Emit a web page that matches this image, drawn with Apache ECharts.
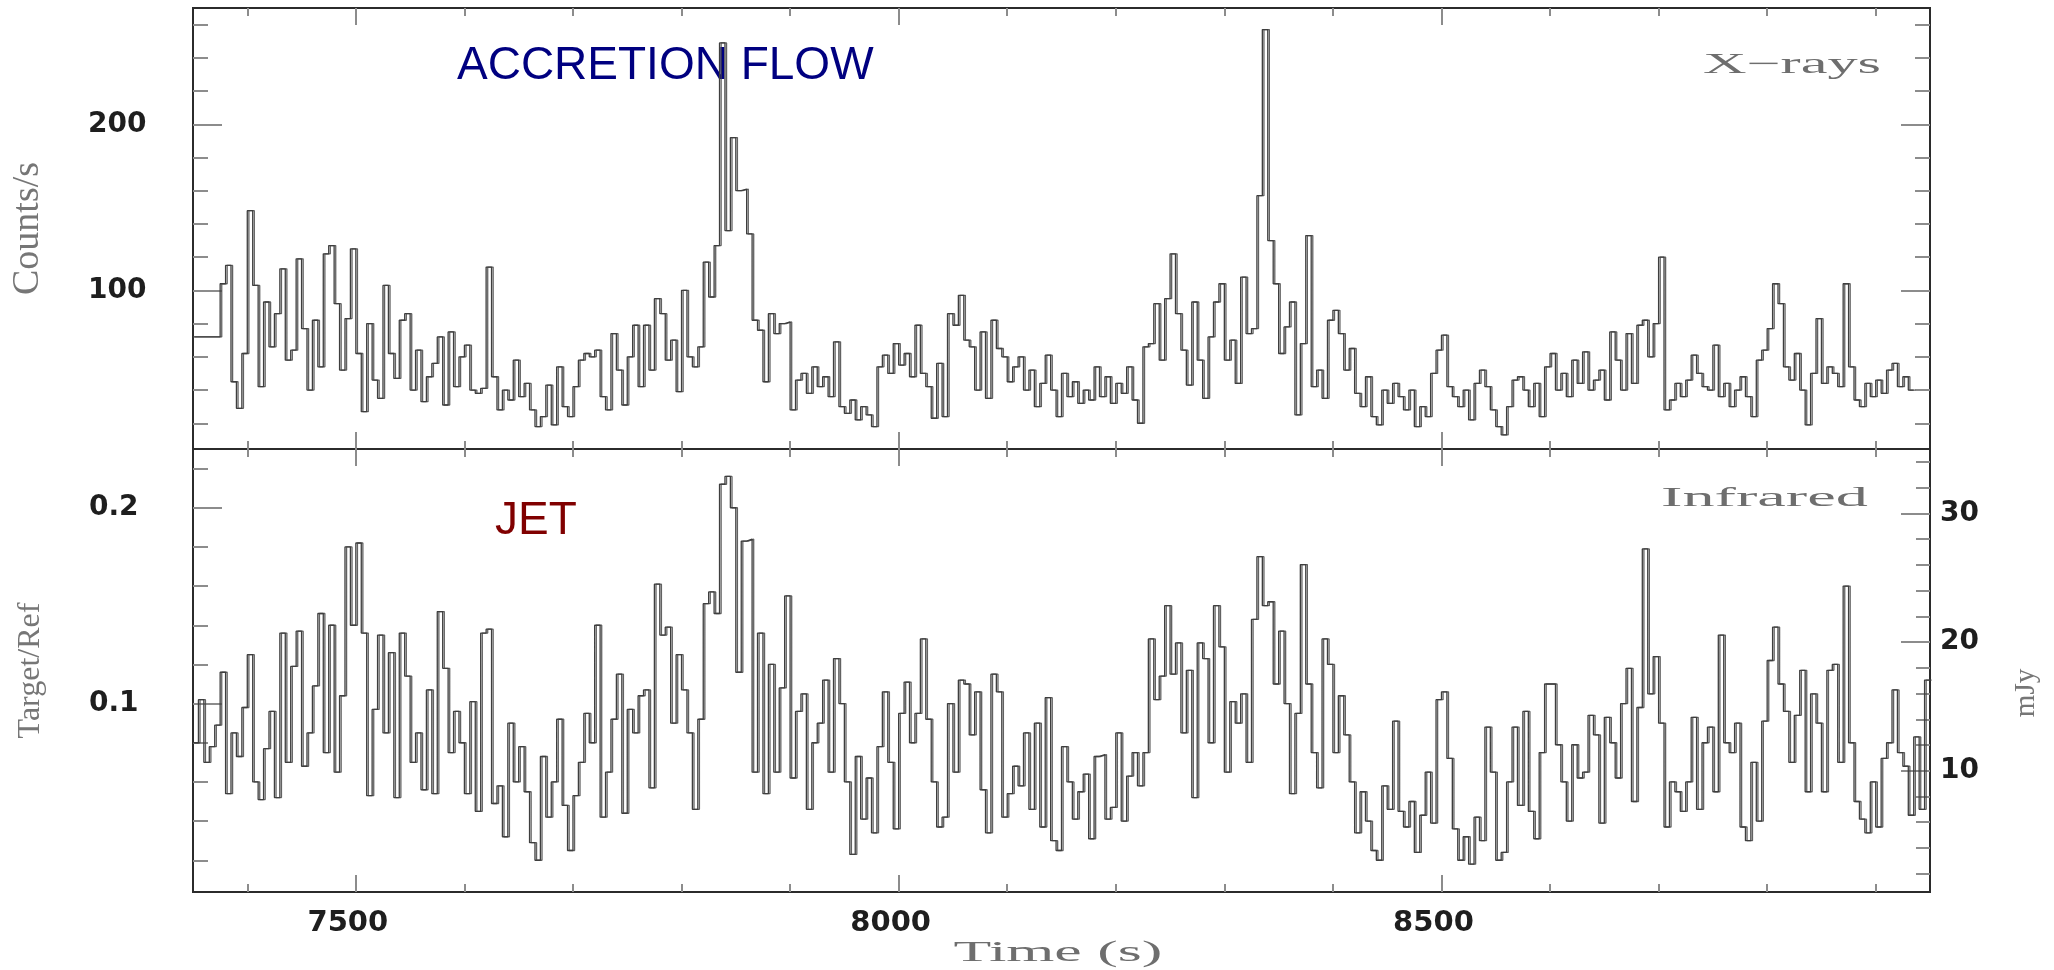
<!DOCTYPE html>
<html>
<head>
<meta charset="utf-8">
<title>Accretion flow and jet light curves</title>
<script src="https://cdn.jsdelivr.net/npm/echarts@6/dist/echarts.min.js"></script>
<style>
  html, body { margin: 0; padding: 0; background: #ffffff; }
  #chart { width: 2054px; height: 970px; }
</style>
</head>
<body>
<div id="chart"></div>
<script>
// Both light curves are binned on the same 5 s grid starting at 7350 s
const binStart = 7350;
const binSeconds = 5;

// X-ray count rate (counts/s), one value per bin
const xrayRate = [
  72, 72, 72, 72, 72, 104, 115, 45, 29, 62,
  148, 103, 42, 93, 66, 86, 113, 58, 64, 119,
  77, 40, 82, 54, 122, 127, 92, 52, 83, 125,
  62, 27, 80, 46, 35, 103, 62, 47, 82, 86,
  40, 64, 33, 48, 56, 72, 31, 75, 42, 60,
  67, 40, 38, 41, 114, 48, 28, 40, 34, 58,
  36, 44, 28, 18, 24, 43, 19, 54, 30, 24,
  42, 58, 62, 60, 64, 36, 28, 74, 52, 31,
  60, 79, 42,
  79, 52, 95, 86, 58, 70, 39, 100, 60, 54,
  66, 117, 96, 127, 249, 136, 192, 160, 161, 134,
  82, 76, 45, 86, 74, 80, 81, 28, 46, 50,
  38, 54, 42, 48, 36, 69, 30, 26, 34, 22,
  30, 25, 18, 54, 61, 50, 68, 55, 62, 48,
  79, 50, 42, 23, 56, 24, 86, 79, 97, 70,
  66, 40, 75, 35, 82, 65, 60, 45, 54, 60,
  40, 52, 30, 44, 61, 40, 24, 50, 36, 45,
  32, 40, 34, 54,
  36, 48, 32, 44, 38, 54, 34, 20, 66, 68,
  92, 58, 95, 122, 86, 64, 43, 93, 58, 35,
  72, 93, 104, 58, 70, 44, 108, 74, 77, 157,
  257, 130, 104, 62, 78, 93, 25, 68, 133, 42,
  52, 35, 82, 88, 74, 52, 65, 38, 30, 48,
  24, 19, 40, 32, 44, 36, 28, 40, 18, 30,
  24, 50, 64, 73, 42, 36, 30, 40, 22, 44,
  52, 42, 28, 18, 13, 30, 46, 48, 40, 30,
  44, 24, 54,
  62, 40, 50, 36, 58, 44, 63, 40, 46, 52,
  34, 75, 58, 40, 74, 44, 79, 82, 60, 80,
  120, 28, 34, 44, 36, 46, 61, 50, 42, 40,
  67, 36, 44, 30, 40, 48, 36, 24, 58, 64,
  77, 104, 92, 54, 46, 62, 40, 19, 50, 83,
  44, 54, 50, 42, 104, 54, 34, 30, 44, 36,
  46, 38, 52, 56, 42, 48, 40
];

// Infrared target/reference flux ratio, one value per bin
const irRatio = [
  0.080, 0.102, 0.070, 0.078, 0.089, 0.116, 0.054, 0.085, 0.073, 0.098,
  0.125, 0.060, 0.051, 0.077, 0.096, 0.052, 0.136, 0.070, 0.119, 0.137,
  0.068, 0.085, 0.109, 0.146, 0.075, 0.140, 0.065, 0.104, 0.180, 0.140,
  0.182, 0.136, 0.053, 0.097, 0.135, 0.085, 0.126, 0.052, 0.136, 0.114,
  0.070, 0.085, 0.056, 0.107, 0.054, 0.147, 0.118, 0.075, 0.096, 0.080,
  0.054, 0.101, 0.045, 0.136, 0.138, 0.049, 0.058, 0.032, 0.090, 0.060,
  0.078, 0.055, 0.029, 0.020, 0.073, 0.042, 0.060, 0.092, 0.048, 0.025,
  0.053, 0.070, 0.095, 0.080, 0.140, 0.042, 0.065, 0.092, 0.115, 0.044,
  0.097, 0.085, 0.104, 0.107,
  0.057, 0.161, 0.135, 0.139, 0.090, 0.125, 0.107, 0.085, 0.046, 0.092,
  0.151, 0.157, 0.146, 0.212, 0.216, 0.200, 0.116, 0.183, 0.184, 0.065,
  0.136, 0.054, 0.120, 0.065, 0.108, 0.155, 0.062, 0.096, 0.105, 0.046,
  0.080, 0.090, 0.112, 0.065, 0.123, 0.100, 0.060, 0.023, 0.073, 0.041,
  0.062, 0.034, 0.078, 0.106, 0.070, 0.036, 0.095, 0.111, 0.080, 0.095,
  0.133, 0.092, 0.060, 0.037, 0.042, 0.100, 0.065, 0.112, 0.110, 0.084,
  0.106, 0.056, 0.034, 0.115, 0.106, 0.042, 0.054, 0.068, 0.058, 0.085,
  0.046, 0.090, 0.037, 0.103, 0.030, 0.025, 0.078, 0.060, 0.041, 0.055,
  0.064, 0.031, 0.073,
  0.074, 0.041, 0.047, 0.085, 0.040, 0.063, 0.075, 0.058, 0.075, 0.133,
  0.102, 0.114, 0.150, 0.115, 0.131, 0.085, 0.117, 0.052, 0.131, 0.123,
  0.080, 0.150, 0.129, 0.065, 0.101, 0.090, 0.105, 0.070, 0.143, 0.175,
  0.150, 0.152, 0.110, 0.137, 0.100, 0.054, 0.095, 0.171, 0.110, 0.075,
  0.057, 0.133, 0.120, 0.075, 0.104, 0.084, 0.060, 0.034, 0.055, 0.040,
  0.025, 0.020, 0.058, 0.046, 0.091, 0.045, 0.037, 0.050, 0.024, 0.043,
  0.065, 0.039, 0.102, 0.106, 0.072, 0.036, 0.020, 0.032, 0.018, 0.042,
  0.030, 0.088, 0.065, 0.020, 0.024, 0.060, 0.088, 0.048, 0.096, 0.045,
  0.031, 0.075, 0.110,
  0.110, 0.079, 0.060, 0.040, 0.079, 0.062, 0.065, 0.094, 0.084, 0.039,
  0.093, 0.080, 0.062, 0.100, 0.118, 0.050, 0.098, 0.179, 0.105, 0.124,
  0.090, 0.037, 0.060, 0.055, 0.045, 0.060, 0.093, 0.046, 0.080, 0.088,
  0.055, 0.135, 0.080, 0.075, 0.090, 0.037, 0.030, 0.070, 0.040, 0.091,
  0.122, 0.139, 0.110, 0.096, 0.070, 0.094, 0.117, 0.055, 0.105, 0.090,
  0.055, 0.117, 0.120, 0.070, 0.160, 0.080, 0.050, 0.041, 0.034, 0.060,
  0.037, 0.072, 0.080, 0.107, 0.075, 0.068, 0.043, 0.083, 0.046, 0.112
];

// Axis extents
const timeRange = [7350, 8950];
const rateRange = [4.5, 270];
const ratioRange = [0.0038, 0.23];
const mJyPerRatio = 152.2;          // flux calibration of the ratio axis

// Tick marks and labels
const timeLabels = [7500, 8000, 8500];
const timeMinorTicks = [7400, 7500, 7600, 7700, 7800, 7900, 8000, 8100, 8200, 8300, 8400, 8500, 8600, 8700, 8800, 8900];
const rateLabels = [100, 200];
const rateMinorTicks = [20, 40, 60, 80, 100, 120, 140, 160, 180, 200, 220, 240, 260];
const ratioLabels = [0.1, 0.2];
const ratioMinorTicks = [0.02, 0.04, 0.06, 0.08, 0.1, 0.12, 0.14, 0.16, 0.18, 0.2, 0.22];
const fluxLabels = [10, 20, 30];
const fluxMinorTicks = [2, 4, 6, 8, 10, 12, 14, 16, 18, 20, 22, 24, 26, 28, 30, 32, 34];

const TICK_COLOR = '#8c8c8c';
const LINE_COLOR = '#3e3e3e';
const labelFont = {
  fontFamily: 'DejaVu Sans', fontWeight: 'bold', color: '#1e1e1e',
  formatter: function (v) { return String(v); }
};

// Step-curve points: each value holds for its whole bin, closed at the last bin edge
function stepPoints(values) {
  const pts = values.map((v, i) => [binStart + i * binSeconds, v]);
  pts.push([binStart + values.length * binSeconds, values[values.length - 1]]);
  return pts;
}

// One tick-only axis (inside ticks, no axis line); optional labels
function axis(gridIndex, position, range, ticks, tickLen, labels, labelStyle) {
  return {
    type: 'value',
    gridIndex: gridIndex,
    position: position,
    min: range[0],
    max: range[1],
    axisLine: { show: false },
    splitLine: { show: false },
    axisTick: {
      show: true, inside: true, length: tickLen, customValues: ticks,
      lineStyle: { color: TICK_COLOR, width: 2 }
    },
    axisLabel: labels
      ? Object.assign({ show: true, customValues: labels }, labelStyle)
      : { show: false }
  };
}

const fluxRange = [ratioRange[0] * mJyPerRatio, ratioRange[1] * mJyPerRatio];

const xAxes = [
  // upper panel
  axis(0, 'bottom', timeRange, timeLabels, 17),
  axis(0, 'bottom', timeRange, timeMinorTicks, 8),
  axis(0, 'top', timeRange, timeLabels, 17),
  axis(0, 'top', timeRange, timeMinorTicks, 8),
  // lower panel
  axis(1, 'bottom', timeRange, timeLabels, 17, timeLabels,
       Object.assign({ fontSize: 29, margin: 17, padding: [0, 16, 0, 0] }, labelFont)),
  axis(1, 'bottom', timeRange, timeMinorTicks, 8),
  axis(1, 'top', timeRange, timeLabels, 17),
  axis(1, 'top', timeRange, timeMinorTicks, 8)
];

const yAxes = [
  // upper panel: count rate
  axis(0, 'left', rateRange, rateLabels, 29, rateLabels,
       Object.assign({ fontSize: 28, margin: 105, align: 'left' }, labelFont)),
  axis(0, 'left', rateRange, rateMinorTicks, 15),
  axis(0, 'right', rateRange, rateLabels, 29),
  axis(0, 'right', rateRange, rateMinorTicks, 15),
  // lower panel: ratio on the left, flux density on the right
  axis(1, 'left', ratioRange, ratioLabels, 29, ratioLabels,
       Object.assign({ fontSize: 28, margin: 104, align: 'left' }, labelFont)),
  axis(1, 'left', ratioRange, ratioMinorTicks, 15),
  axis(1, 'right', fluxRange, fluxLabels, 29, fluxLabels,
       Object.assign({ fontSize: 28, margin: 10, align: 'left' }, labelFont)),
  axis(1, 'right', fluxRange, fluxMinorTicks, 14)
];

// Axis titles on the left
Object.assign(yAxes[0], {
  name: 'Counts/s', nameLocation: 'middle', nameRotate: 90, nameGap: 146,
  nameTextStyle: { fontFamily: 'Liberation Serif', fontSize: 38, color: '#767676' }
});
Object.assign(yAxes[4], {
  name: 'Target/Ref', nameLocation: 'middle', nameRotate: 90, nameGap: 146,
  nameTextStyle: { fontFamily: 'Liberation Serif', fontSize: 32, color: '#767676' }
});

const serifGray = { fontFamily: 'Liberation Serif', fill: '#6e6e6e', verticalAlign: 'middle' };

// Curve style: vertical strokes read wider than horizontal ones
const curveStyle = {
  color: LINE_COLOR, width: 1.3,
  shadowColor: 'rgba(70,70,70,0.85)', shadowBlur: 0, shadowOffsetX: 1.6, shadowOffsetY: 0
};

const option = {
  animation: false,
  backgroundColor: '#ffffff',
  grid: [
    { left: 193, top: 8, width: 1737, height: 441, show: true, borderColor: '#2b2b2b', borderWidth: 2,
      containLabel: false, outerBoundsMode: 'none' },
    { left: 193, top: 449, width: 1737, height: 443, show: true, borderColor: '#2b2b2b', borderWidth: 2,
      containLabel: false, outerBoundsMode: 'none' }
  ],
  xAxis: xAxes,
  yAxis: yAxes,
  series: [
    {
      name: 'X-rays', type: 'line', xAxisIndex: 0, yAxisIndex: 0,
      step: 'end', showSymbol: false, symbol: 'none', silent: true,
      lineStyle: curveStyle,
      data: stepPoints(xrayRate)
    },
    {
      name: 'Infrared', type: 'line', xAxisIndex: 4, yAxisIndex: 4,
      step: 'end', showSymbol: false, symbol: 'none', silent: true,
      lineStyle: curveStyle,
      data: stepPoints(irRatio)
    }
  ],
  graphic: [
    { type: 'text', x: 457, y: 66, silent: true,
      style: { text: 'ACCRETION FLOW', fontFamily: 'Liberation Sans', fontSize: 46, fill: '#000080', verticalAlign: 'middle' } },
    { type: 'text', x: 495, y: 521, silent: true,
      style: { text: 'JET', fontFamily: 'Liberation Sans', fontSize: 46, fill: '#800000', verticalAlign: 'middle' } },
    { type: 'text', x: 1703, y: 65, scaleX: 2.08, silent: true,
      style: Object.assign({ text: 'X\u2212rays', fontSize: 29, align: 'left' }, serifGray) },
    { type: 'text', x: 1661, y: 499, scaleX: 2.38, silent: true,
      style: Object.assign({ text: 'Infrared', fontSize: 27, align: 'left' }, serifGray) },
    { type: 'text', x: 1058, y: 953, scaleX: 2.13, silent: true,
      style: Object.assign({ text: 'Time (s)', fontSize: 29, align: 'center' }, serifGray) },
    { type: 'text', x: 2026, y: 693, rotation: Math.PI / 2, silent: true,
      style: Object.assign({ text: 'mJy', fontSize: 29, align: 'center' }, serifGray, { fill: '#767676' }) }
  ]
};

const chart = echarts.init(document.getElementById('chart'), null, { renderer: 'canvas' });
chart.setOption(option);
</script>
</body>
</html>
